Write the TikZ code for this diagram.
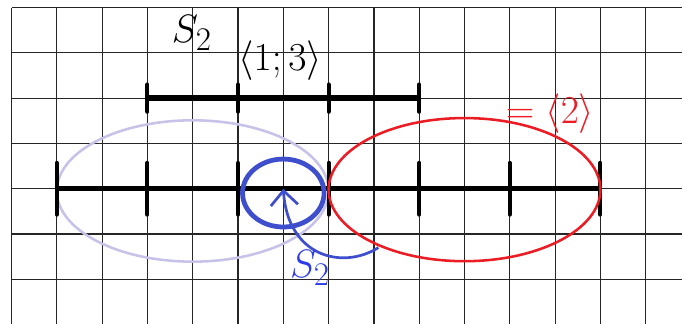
\documentclass[tikz,border=0pt]{standalone}
\usetikzlibrary{arrows.meta}
\definecolor{lav}{RGB}{198,194,232}
\definecolor{myred}{RGB}{236,28,36}
\definecolor{myblue}{RGB}{62,78,205}
\definecolor{textblue}{RGB}{45,60,232}
\tikzset{
  gridline/.style={black!85,line width=0.75pt},
  seg/.style={line width=3.3pt},
  tick/.style={line width=2.6pt,line cap=round},
  lbl/.style={font=\Huge,inner sep=0pt,anchor=base},
  arr/.style={myblue,line width=1.7pt,-{Straight Barb[length=0.32cm,width=0.6cm,line width=1.7pt]}}
}
\begin{document}
\begin{tikzpicture}
\useasboundingbox (-6.254,-2.965) rectangle (8.801,4.166);
\clip (-6.254,-2.965) rectangle (8.801,4.166);
\draw[gridline] (-6,-3.5) grid (9.5,4);
% lavender ellipse
\draw[lav,line width=1.6pt] (-2,-0.05) ellipse [x radius=3, y radius=1.56];
% top segment
\coordinate (t1) at (-3,2);
\coordinate (t2) at (3,2);
\draw[seg] (t1) -- (t2);
\foreach \x in {-3,-1,1,3} \draw[tick] (\x,1.7) -- (\x,2.3);
% main line
\coordinate (m1) at (-5,0);
\coordinate (m2) at (7,0);
\draw[seg] (m1) -- (m2);
\foreach \x in {-5,-3,-1,1,3,5,7} \draw[tick] (\x,-0.57) -- (\x,0.57);
% red ellipse
\draw[myred,line width=1.6pt] (4,-0.02) ellipse [x radius=3, y radius=1.58];
% blue circle
\draw[myblue,line width=3pt] (0,-0.095) ellipse [x radius=0.9, y radius=0.75];
% arrow
\coordinate (ctr) at (0,0);
\coordinate (astart) at (2.1,-1.3);
\draw[arr] (astart) .. controls (1.3,-1.8) and (0.1,-1.5) .. (ctr);
% labels
\node[lbl] (s2top) at (-2.02,3.22) {$S_2$};
\node[lbl] (int13) at (-0.07,2.62) {$\langle 1;3\rangle$};
\node[lbl,text=myred] (eq2) at (5.89,1.45) {$=\langle 2\rangle$};
\node[lbl,text=textblue] (s2blue) at (0.59,-1.97) {$S_2$};
\end{tikzpicture}
\end{document}
